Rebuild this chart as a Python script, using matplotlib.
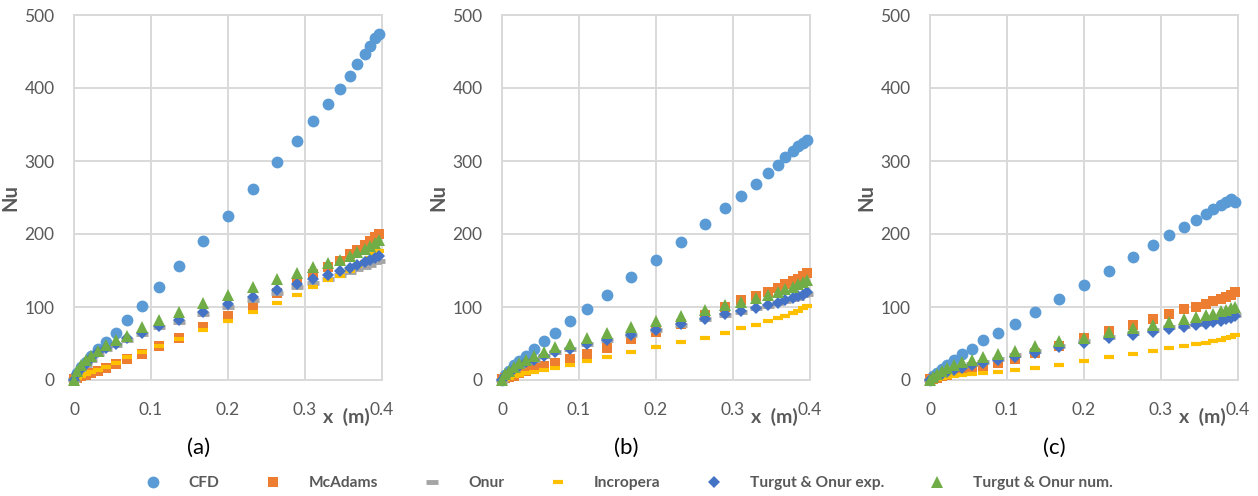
import matplotlib
matplotlib.use("Agg")
import matplotlib.pyplot as plt
from matplotlib.lines import Line2D

plt.rcParams['font.family'] = ['Lato', 'DejaVu Sans']

x = [0, 0.004, 0.009, 0.015, 0.022, 0.031, 0.042, 0.055, 0.069, 0.088, 0.110, 0.137, 0.168,
     0.200, 0.232, 0.263, 0.290, 0.311, 0.330, 0.345, 0.358, 0.368, 0.3775, 0.384, 0.391, 0.3965]

series_names = ["CFD", "McAdams", "Onur", "Incropera", "Turgut & Onur exp.", "Turgut & Onur num."]

cfd_a = [3, 10, 18, 25, 33, 42, 52, 65, 82, 102, 127, 156, 190, 225, 261, 298, 328, 355, 378, 399, 417, 433, 446, 458, 468, 474]
mcadams_a = [2, 3, 5, 7, 10, 13, 17, 22, 29, 36, 46, 58, 72, 87, 101, 119, 132, 145, 155, 163, 172, 178, 185, 190, 196, 200]
onur_a = [0, 7, 13, 20, 27, 35, 42, 48, 55, 63, 72, 80, 90, 100, 110, 119, 127, 133, 139, 144, 148, 152, 155, 158, 161, 163]
incropera_a = [0, 3, 5, 8, 11, 14, 18, 23, 31, 38, 46, 56, 68, 81, 93, 106, 117, 127, 137, 143, 150, 156, 162, 167, 172, 177]
texp_a = [0, 8, 15, 22, 30, 38, 44, 50, 57, 65, 74, 82, 93, 104, 114, 123, 132, 138, 144, 149, 153, 157, 161, 164, 167, 170]
tnum_a = [0, 12, 20, 27, 33, 40, 48, 55, 60, 72, 82, 93, 105, 117, 128, 139, 147, 155, 160, 165, 170, 175, 180, 184, 188, 192]

cfd_b = [0, 7, 13, 20, 26, 33, 42, 53, 65, 81, 97, 116, 141, 164, 189, 214, 235, 252, 268, 283, 295, 306, 314, 320, 325, 329]
mcadams_b = [2, 3, 4, 6, 9, 12, 16, 19, 23, 29, 36, 44, 56, 66, 77, 89, 100, 109, 115, 120, 126, 131, 135, 139, 142, 146]
onur_b = [0, 6, 10, 15, 19, 24, 28, 33, 38, 43, 49, 55, 61, 68, 76, 84, 89, 93, 98, 102, 105, 108, 111, 113, 116, 118]
incropera_b = [0, 2, 3, 5, 7, 9, 11, 14, 17, 21, 26, 31, 38, 45, 52, 58, 65, 71, 76, 81, 85, 88, 92, 95, 98, 101]
texp_b = [0, 6, 10, 15, 19, 24, 28, 33, 38, 43, 49, 55, 61, 68, 77, 84, 90, 94, 99, 103, 106, 109, 112, 115, 117, 120]
tnum_b = [0, 8, 13, 18, 23, 28, 33, 39, 45, 50, 57, 65, 73, 81, 88, 96, 103, 107, 112, 117, 121, 124, 128, 131, 134, 137]

cfd_c = [0, 5, 10, 15, 21, 27, 35, 43, 55, 64, 77, 93, 111, 130, 149, 168, 185, 198, 209, 219, 228, 234, 240, 244, 248, 244]
mcadams_c = [2, 2, 3, 5, 7, 9, 12, 14, 17, 23, 29, 37, 47, 57, 67, 75, 84, 91, 97, 100, 104, 108, 111, 114, 117, 120]
onur_c = [0, 4, 7, 10, 13, 16, 19, 22, 25, 29, 34, 40, 47, 54, 59, 64, 68, 72, 74, 77, 79, 81, 83, 85, 87, 89]
incropera_c = [0, 1, 2, 3, 4, 5, 7, 8, 9, 11, 14, 17, 21, 26, 31, 35, 40, 44, 46, 49, 51, 53, 55, 57, 59, 61]
texp_c = [0, 3, 6, 8, 11, 14, 17, 20, 23, 27, 32, 37, 45, 51, 57, 61, 66, 70, 72, 75, 77, 79, 81, 83, 85, 87]
tnum_c = [0, 4, 8, 12, 16, 20, 24, 27, 31, 35, 40, 46, 54, 58, 66, 71, 75, 80, 83, 86, 89, 91, 94, 96, 98, 100]

panels = [
    ("(a)", [cfd_a, mcadams_a, onur_a, incropera_a, texp_a, tnum_a]),
    ("(b)", [cfd_b, mcadams_b, onur_b, incropera_b, texp_b, tnum_b]),
    ("(c)", [cfd_c, mcadams_c, onur_c, incropera_c, texp_c, tnum_c]),
]

xticks = [0, 0.1, 0.2, 0.3, 0.4]
xticklabels = ["0", "0.1", "0.2", "0.3", "0.4"]
yticks = [0, 100, 200, 300, 400, 500]

styles = [
    dict(marker='o', color='#5B9BD5', ms=8.5, mew=0),
    dict(marker='s', color='#ED7D31', ms=7.5, mew=0),
    dict(marker='_', color='#A5A5A5', ms=8, mew=3.5),
    dict(marker='_', color='#FFC000', ms=6.5, mew=3),
    dict(marker='D', color='#4472C4', ms=6.5, mew=0),
    dict(marker='^', color='#70AD47', ms=8.5, mew=0),
]

W, H = 1258, 496
fig = plt.figure(figsize=(W / 100, H / 100), dpi=100)
lefts = [74, 502, 930]
top, bottom, width = 15, 380, 308
txt = '#595959'
grid = '#D9D9D9'

for (label, data), left in zip(panels, lefts):
    ax = fig.add_axes([left / W, 1 - bottom / H, width / W, (bottom - top) / H])
    ax.set_xlim(0, 0.4)
    ax.set_ylim(0, 500)
    ax.set_xticks(xticks)
    ax.set_xticklabels(xticklabels)
    ax.set_yticks(yticks)
    ax.grid(True, color=grid, lw=1.4)
    ax.set_axisbelow(True)
    for sp in ax.spines.values():
        sp.set_color(grid)
        sp.set_linewidth(1.4)
    ax.tick_params(length=0, labelsize=12.5, colors=txt)
    ax.tick_params(axis='x', pad=16)
    ax.tick_params(axis='y', pad=14)
    for vals, st in zip(data, styles):
        ax.plot(x, vals, linestyle='none', marker=st['marker'], color=st['color'],
                markersize=st['ms'], markeredgewidth=st['mew'],
                markeredgecolor=st['color'], clip_on=False, zorder=3)
    ax.set_ylabel("Nu", fontsize=14.5, fontweight='bold', color=txt)
    ax.yaxis.set_label_coords(-54 / width, 0.5)
    ax.text(0.885, -0.1, "x  (m)", transform=ax.transAxes, ha='center', va='center',
            fontsize=14, fontweight='bold', color=txt)
    ax.text(0.405, -0.186, label, transform=ax.transAxes, ha='center', va='center',
            fontsize=16, color='black')

handles = [Line2D([], [], linestyle='none', marker=st['marker'], color=st['color'],
                  markersize=st['ms'], markeredgewidth=st['mew'], markeredgecolor=st['color'])
           for st in styles]
leg = fig.legend(handles, series_names, loc='center', bbox_to_anchor=(0.497, 1 - 483 / H),
                 ncol=6, frameon=False, columnspacing=2.45, handletextpad=1.3,
                 prop=dict(size=11.2, weight='bold'))
for t in leg.get_texts():
    t.set_color(txt)

fig.savefig("out.png", dpi=100)
